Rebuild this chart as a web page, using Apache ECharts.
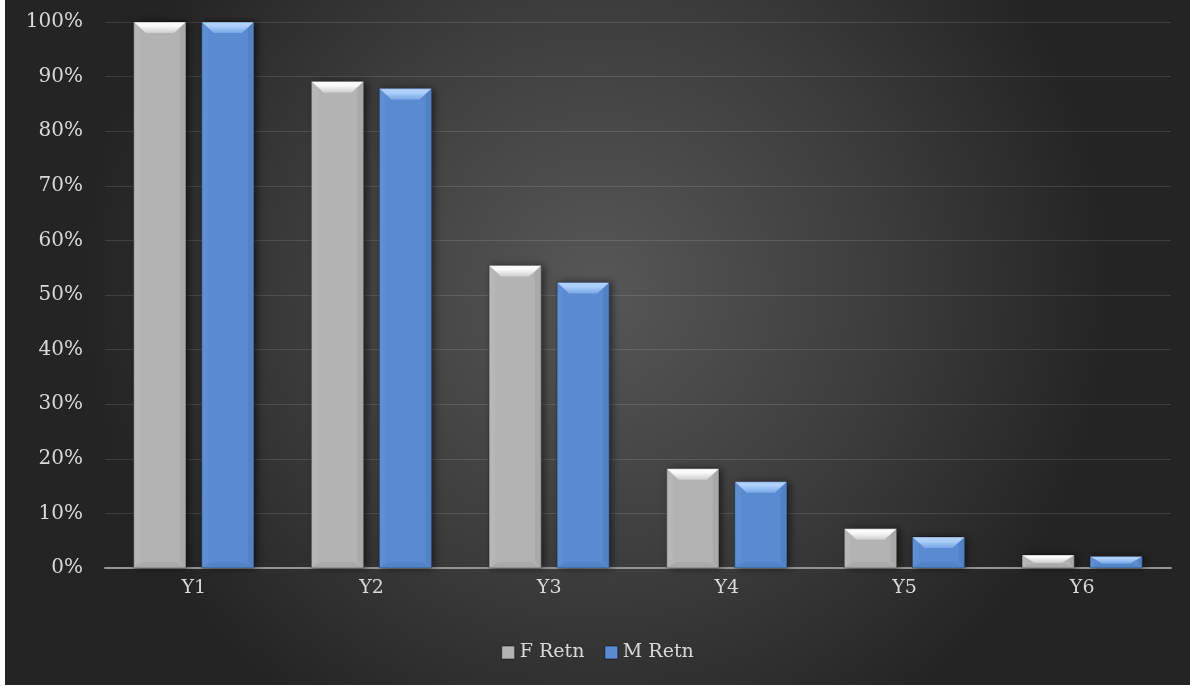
<!DOCTYPE html>
<html>
<head>
<meta charset="utf-8">
<script src="https://cdn.jsdelivr.net/npm/echarts@6/dist/echarts.min.js"></script>
<style>
html,body{margin:0;padding:0;background:#ffffff;}
#chart{position:absolute;left:5px;top:0;width:1185px;height:685px;}
</style>
</head>
<body>
<div id="chart"></div>
<script>
const categories = ['Y1', 'Y2', 'Y3', 'Y4', 'Y5', 'Y6'];
const fRetn = [1.00, 0.891, 0.554, 0.182, 0.072, 0.024];
const mRetn = [1.00, 0.878, 0.523, 0.158, 0.057, 0.021];
const seriesNames = ['F Retn', 'M Retn'];

const palettes = [
  {body:'#b3b3b3', left:'#b7b7b7', right:'#a9a9a9', bottom:'#aaaaaa', topA:'#fafafa', topB:'#cfcfcf', legend:'#b3b3b3'},
  {body:'#5a8bd0', left:'#5e8fd4', right:'#5282c6', bottom:'#5384c8', topA:'#aed0fa', topB:'#77a8e8', legend:'#5a8bd0'}
];

function makeRender(si) {
  const p = palettes[si];
  return function (params, api) {
    const cat = api.value(0), val = api.value(1);
    const top = api.coord([cat, val]);
    const base = api.coord([cat, 0]);
    const catW = api.size([1, 0])[0];
    const bw = catW * 0.2927;
    const gap = catW * 0.09;
    const totalW = 2 * bw + gap;
    const x0 = base[0] - totalW / 2 + si * (bw + gap);
    const x1 = x0 + bw;
    const y0 = top[1], y1 = base[1];
    const h = y1 - y0;
    const d = Math.min(11, h * 0.6);
    const dx = Math.min(12, bw / 2);
    const s = Math.min(6, h / 3);
    return {
      type: 'group',
      children: [
        {type:'rect', shape:{x:x0, y:y0, width:bw, height:h},
         style:{fill:p.body, shadowColor:'rgba(0,0,0,0.55)', shadowBlur:8, shadowOffsetX:3, shadowOffsetY:0}},
        {type:'polygon', shape:{points:[[x0,y0],[x0+s,y0+s],[x0+s,y1-s],[x0,y1]]}, style:{fill:p.left}},
        {type:'polygon', shape:{points:[[x1,y0],[x1-s,y0+s],[x1-s,y1-s],[x1,y1]]}, style:{fill:p.right}},
        {type:'polygon', shape:{points:[[x0,y1],[x0+10,y1-s],[x1-10,y1-s],[x1,y1]]}, style:{fill:p.bottom}},
        {type:'polygon', shape:{points:[[x0,y0],[x1,y0],[x1-dx,y0+d],[x0+dx,y0+d]]},
         style:{fill:{type:'linear', x:0, y:0, x2:0, y2:1, colorStops:[{offset:0,color:p.topA},{offset:0.35,color:p.topA},{offset:1,color:p.topB}]}}},
        {type:'rect', shape:{x:x0, y:y0, width:bw, height:h},
         style:{fill:'none', stroke:'rgba(0,0,0,0.3)', lineWidth:1}}
      ]
    };
  };
}

const chart = echarts.init(document.getElementById('chart'), null, {renderer:'canvas'});
const font = '"DejaVu Serif", "Liberation Serif", serif';
const seriesData = [fRetn, mRetn];

chart.setOption({
  animation: false,
  backgroundColor: {
    type:'radial', x:0.5, y:0.42, r:0.75,
    colorStops:[{offset:0, color:'#575757'}, {offset:0.55, color:'#3d3d3d'}, {offset:1, color:'#242424'}]
  },
  grid: {left:100, right:19, top:22, bottom:117, containLabel:false},
  legend: {
    bottom: 18,
    left: 'center',
    itemWidth: 13,
    itemHeight: 13,
    itemGap: 20,
    icon: 'rect',
    textStyle: {color:'#d9d9d9', fontFamily:font, fontSize:19},
    data: seriesNames.map((n, i) => ({name:n, itemStyle:{color:palettes[i].legend, borderColor:'rgba(0,0,0,0.5)', borderWidth:1}}))
  },
  xAxis: {
    type:'category',
    data: categories,
    axisLine:{show:true, lineStyle:{color:'#939393', width:2}},
    axisTick:{show:false},
    axisLabel:{color:'#d9d9d9', fontFamily:font, fontSize:19, margin:11},
    splitLine:{show:false}
  },
  yAxis: {
    type:'value',
    min:0, max:1, interval:0.1,
    axisLine:{show:false},
    axisTick:{show:false},
    axisLabel:{color:'#d9d9d9', fontFamily:font, fontSize:20, margin:22,
      formatter: v => Math.round(v * 100) + '%'},
    splitLine:{lineStyle:{color:'rgba(255,255,255,0.12)', width:1}}
  },
  series: seriesNames.map((n, i) => ({
    name: n,
    type: 'custom',
    renderItem: makeRender(i),
    itemStyle: {color: palettes[i].legend},
    encode: {x:0, y:1},
    data: seriesData[i].map((v, k) => [k, v]),
    z: 3
  }))
});
</script>
</body>
</html>
